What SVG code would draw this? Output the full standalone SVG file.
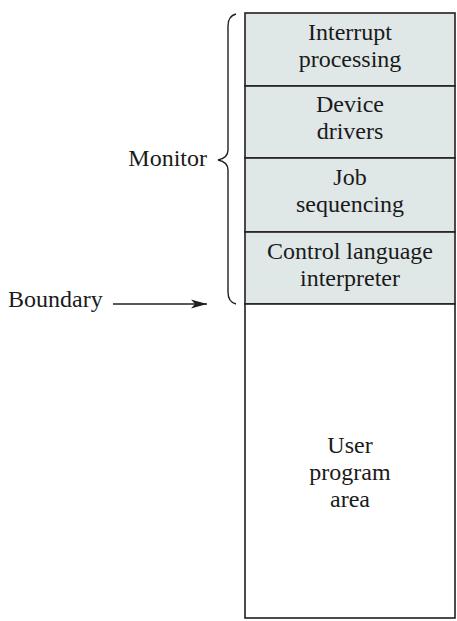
<svg xmlns="http://www.w3.org/2000/svg" width="457" height="621" viewBox="0 0 457 621">
<style>
text{font-family:"Liberation Serif","Times New Roman",serif;font-size:24px;fill:#1a1a1a}
.c{text-anchor:middle}
.sec{fill:#dfe7e7;stroke:#231f20;stroke-width:1.6}
.usr{fill:#ffffff;stroke:#231f20;stroke-width:1.6}
.ln{fill:none;stroke:#231f20;stroke-width:1.4}
</style>
<defs>
<marker id="ah" viewBox="0 0 16 10" refX="16" refY="5" markerWidth="16" markerHeight="10" markerUnits="userSpaceOnUse" orient="auto">
<path d="M0,0.5 L16,5 L0,9.5 L4,5 Z" fill="#231f20"/>
</marker>
</defs>
<g id="interrupt">
<rect class="sec" x="245" y="13" width="210" height="73"/>
<text class="c" x="350" y="40">Interrupt</text>
<text class="c" x="350" y="67">processing</text>
</g>
<g id="device">
<rect class="sec" x="245" y="86" width="210" height="72"/>
<text class="c" x="350" y="112">Device</text>
<text class="c" x="350" y="139">drivers</text>
</g>
<g id="job">
<rect class="sec" x="245" y="158" width="210" height="74"/>
<text class="c" x="350" y="185">Job</text>
<text class="c" x="350" y="212">sequencing</text>
</g>
<g id="control">
<rect class="sec" x="245" y="232" width="210" height="72"/>
<text class="c" x="350" y="259">Control language</text>
<text class="c" x="350" y="286">interpreter</text>
</g>
<g id="user">
<rect class="usr" x="245" y="304" width="210" height="314"/>
<text class="c" x="350" y="453">User</text>
<text class="c" x="350" y="480">program</text>
<text class="c" x="350" y="507">area</text>
</g>
<g id="monitor">
<path class="ln" d="M236,14 Q228,16 228,26 L228,150 Q228,158 218,160 Q228,162 228,170 L228,292 Q228,302 236,304"/>
<text x="207" y="166" text-anchor="end">Monitor</text>
</g>
<g id="boundary">
<text x="8" y="307">Boundary</text>
</g>
<g id="connectors">
<line class="ln" x1="113" y1="304" x2="207" y2="304" marker-end="url(#ah)"/>
</g>
</svg>
